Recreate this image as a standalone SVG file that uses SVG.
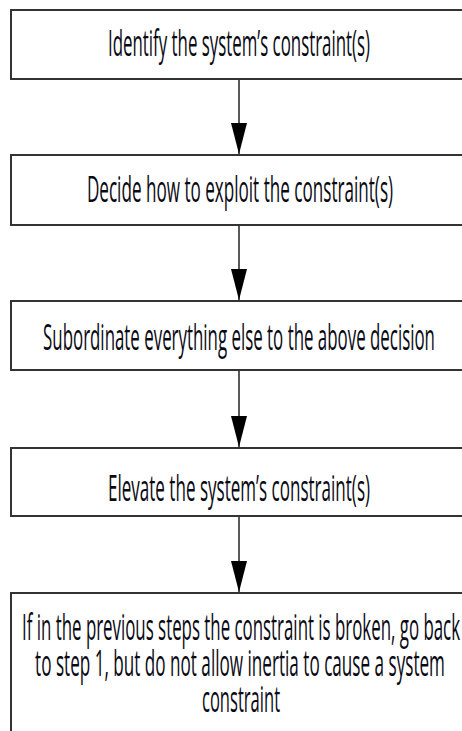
<svg xmlns="http://www.w3.org/2000/svg" width="462" height="731" viewBox="0 0 462 731">
  <defs>
    <marker id="arrow" viewBox="0 -8.5 31 17" refX="31" refY="0" markerWidth="31" markerHeight="17" markerUnits="userSpaceOnUse" orient="auto">
      <path d="M0,-8 L31,0 L0,8 Z" fill="#000"/>
    </marker>
    <style>
      .box { fill: #fff; stroke: #333; stroke-width: 2; }
      .lbl { font-family: "Open Sans", "Liberation Sans", sans-serif; font-size: 37px; font-weight: 500; fill: #0a0a14; text-anchor: middle; }
      .conn { stroke: #000; stroke-width: 1.3; fill: none; marker-end: url(#arrow); }
    </style>
  </defs>
  <rect width="462" height="731" fill="#fff"/>
  <g id="node1">
    <rect class="box" x="11" y="10" width="470" height="69"/>
    <text class="lbl" transform="translate(239,56) scale(0.42,1)" textLength="624" lengthAdjust="spacingAndGlyphs">Identify the system’s constraint(s)</text>
  </g>
  <g id="node2">
    <rect class="box" x="11" y="155" width="470" height="70"/>
    <text class="lbl" transform="translate(240,202) scale(0.42,1)" textLength="729" lengthAdjust="spacingAndGlyphs">Decide how to exploit the constraint(s)</text>
  </g>
  <g id="node3">
    <rect class="box" x="11" y="301" width="470" height="69"/>
    <text class="lbl" transform="translate(239,350) scale(0.42,1)" textLength="933" lengthAdjust="spacingAndGlyphs">Subordinate everything else to the above decision</text>
  </g>
  <g id="node4">
    <rect class="box" x="11" y="448" width="470" height="68"/>
    <text class="lbl" transform="translate(239,501) scale(0.42,1)" textLength="624" lengthAdjust="spacingAndGlyphs">Elevate the system’s constraint(s)</text>
  </g>
  <g id="node5">
    <rect class="box" x="11" y="593" width="470" height="160"/>
    <text class="lbl" transform="translate(241,640) scale(0.42,1)" textLength="1043" lengthAdjust="spacingAndGlyphs">If in the previous steps the constraint is broken, go back</text>
    <text class="lbl" transform="translate(240,676) scale(0.42,1)" textLength="976" lengthAdjust="spacingAndGlyphs">to step 1, but do not allow inertia to cause a system</text>
    <text class="lbl" transform="translate(241,712) scale(0.42,1)" textLength="186" lengthAdjust="spacingAndGlyphs">constraint</text>
  </g>
  <g id="connectors">
    <line class="conn" x1="239" y1="80" x2="239" y2="154"/>
    <line class="conn" x1="239" y1="226" x2="239" y2="300"/>
    <line class="conn" x1="239" y1="371" x2="239" y2="447"/>
    <line class="conn" x1="239" y1="517" x2="239" y2="592"/>
  </g>
</svg>
